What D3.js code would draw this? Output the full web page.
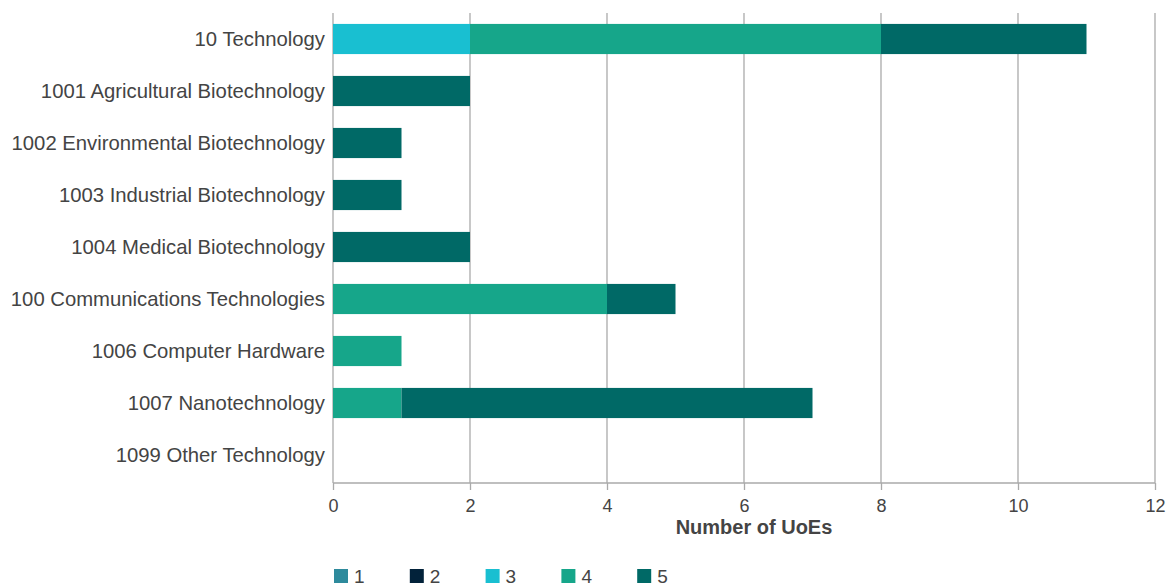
<!DOCTYPE html>
<html><head><meta charset="utf-8">
<script src="https://cdn.jsdelivr.net/npm/d3@7"></script>
<style>body{margin:0;background:#fff;} text{font-family:"Liberation Sans",Arial,sans-serif;}</style>
</head><body>
<svg id="c" width="1170" height="583"></svg>
<script>
const categories = ["10 Technology","1001 Agricultural Biotechnology","1002 Environmental Biotechnology","1003 Industrial Biotechnology","1004 Medical Biotechnology","100 Communications Technologies","1006 Computer Hardware","1007 Nanotechnology","1099 Other Technology"];
const seriesNames = ["1","2","3","4","5"];
const s1 = [0,0,0,0,0,0,0,0,0];
const s2 = [0,0,0,0,0,0,0,0,0];
const s3 = [2,0,0,0,0,0,0,0,0];
const s4 = [6,0,0,0,0,4,1,1,0];
const s5 = [3,2,1,1,2,1,0,6,0];
const colors = ["#2e8a9c","#02223a","#19bfd1","#16a68a","#006966"];
const xTicks = [0,2,4,6,8,10,12];

(function(){
const svg = d3.select("#c");
const mLeft = 333, mRight = 1155, mTop = 13, mBottom = 481;
const x = d3.scaleLinear().domain([0,12]).range([mLeft,mRight]);
const y = d3.scaleBand().domain(categories).range([mTop,mBottom]).paddingInner(0.42).paddingOuter(0.21);

svg.append("g").selectAll("line").data(xTicks).join("line")
  .attr("x1",d=>x(d)).attr("x2",d=>x(d)).attr("y1",mTop).attr("y2",mBottom+2)
  .attr("stroke","#aaaaaa").attr("stroke-width",1.3);

const rows = categories.map((c,i)=>({cat:c,"1":s1[i],"2":s2[i],"3":s3[i],"4":s4[i],"5":s5[i]}));
const stack = d3.stack().keys(seriesNames)(rows);
svg.append("g").selectAll("g").data(stack).join("g")
  .attr("fill",(d,i)=>colors[i])
  .selectAll("rect").data(d=>d.filter(p=>p[1]-p[0]>0)).join("rect")
  .attr("x",d=>x(d[0])).attr("width",d=>x(d[1])-x(d[0]))
  .attr("y",d=>y(d.data.cat)).attr("height",y.bandwidth());

const xa = svg.append("g").attr("transform",`translate(0,${mBottom+2})`)
  .call(d3.axisBottom(x).tickValues(xTicks).tickSize(7).tickPadding(9).tickFormat(d3.format("d")));
xa.select(".domain").attr("stroke","#aaaaaa").attr("stroke-width",1.3).attr("d",`M${mLeft},0H${mRight}`);
xa.selectAll(".tick line").attr("stroke","#aaaaaa").attr("stroke-width",1.3);
xa.selectAll(".tick text").attr("font-size",18).attr("fill","#444").attr("font-family","Liberation Sans, Arial, sans-serif");

svg.append("text").attr("x",754).attr("y",534).attr("text-anchor","middle")
  .attr("font-size",20).attr("font-weight","bold").attr("fill","#444").text("Number of UoEs");

svg.append("g").selectAll("text").data(categories).join("text")
  .attr("x",325).attr("y",d=>y(d)+y.bandwidth()/2).attr("dy","0.36em")
  .attr("text-anchor","end").attr("font-size",20.3).attr("fill","#444").text(d=>d);

const lg = svg.append("g").selectAll("g").data(seriesNames).join("g")
  .attr("transform",(d,i)=>`translate(${334+i*75.8},569)`);
lg.append("rect").attr("width",14).attr("height",14).attr("fill",(d,i)=>colors[i]);
lg.append("text").attr("x",20).attr("y",7).attr("dy","0.38em").attr("font-size",19).attr("fill","#444").text(d=>d);
})();
</script>
</body></html>
